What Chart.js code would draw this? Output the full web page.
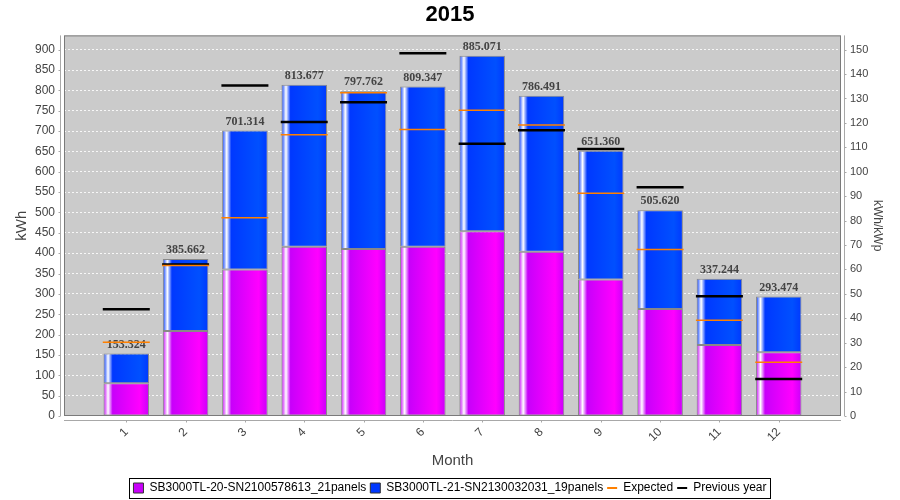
<!DOCTYPE html>
<html>
<head>
<meta charset="utf-8">
<title>2015</title>
<script src="https://cdn.jsdelivr.net/npm/chart.js@4.4.0/dist/chart.umd.min.js"></script>
<style>
html, body { margin: 0; padding: 0; background: #fff; }
#wrap { width: 900px; height: 500px; }
</style>
</head>
<body>
<div id="wrap"><canvas id="chart"></canvas></div>
<script>
// Data
const months = [1, 2, 3, 4, 5, 6, 7, 8, 9, 10, 11, 12];
const inverter20 = [80.3, 208.6, 360.0, 415.6, 410.0, 415.6, 454.0, 403.3, 335.5, 262.6, 174.3, 156.4];
const inverter21 = [73.0, 177.1, 341.3, 398.1, 387.8, 393.7, 431.1, 383.2, 315.9, 243.0, 162.9, 137.1];
const totals = [153.324, 385.662, 701.314, 813.677, 797.762, 809.347, 885.071, 786.491, 651.360, 505.620, 337.244, 293.474];
const expected = [181, 370, 487, 691, 794, 704, 751, 715, 547, 409, 235, 132];
const previousYear = [262, 372, 812, 722, 771, 891, 669, 702, 656, 562, 294, 91];
const seriesNames = ['SB3000TL-20-SN2100578613_21panels', 'SB3000TL-21-SN2130032031_19panels', 'Expected', 'Previous year'];

Chart.defaults.font.family = "'Liberation Sans', Arial, sans-serif";
Chart.defaults.font.size = 12;
Chart.defaults.color = '#444';

const BAR_PCT = 0.768;
const MAGENTA = '#c800fa', MAGENTA_HI = '#ff00ff';
const BLUE = '#0038ff', BLUE_HI = '#0050ff';
const ORANGE = '#ff8000';

// jfreechart style gradient: base -> white -> base -> bright -> base
function barGradient(c, c0, c1) {
    const chart = c.chart;
    const x = chart.scales.x;
    if (!chart.chartArea || c.dataIndex === undefined || !x) return c0;
    const w = (x.getPixelForValue(2) - x.getPixelForValue(1)) * BAR_PCT;
    const left = x.getPixelForValue(months[c.dataIndex]) - w / 2;
    const g = chart.ctx.createLinearGradient(left, 0, left + w, 0);
    g.addColorStop(0, c0);
    g.addColorStop(0.1, '#ffffff');
    g.addColorStop(0.2, c0);
    g.addColorStop(0.8, c1);
    g.addColorStop(1, c0);
    return g;
}

const pts = arr => arr.map((v, i) => ({ x: months[i], y: v }));

// gray plot background, frame and offset axis lines
const plotFrame = {
    id: 'plotFrame',
    beforeDraw(chart) {
        const { ctx, chartArea: a } = chart;
        ctx.save();
        ctx.fillStyle = '#cbcbcb';
        ctx.fillRect(a.left, a.top, a.width, a.height);
        ctx.restore();
    },
    afterDatasetsDraw(chart) {
        const { ctx, chartArea: a, scales } = chart;
        ctx.save();
        ctx.lineWidth = 1;
        ctx.strokeStyle = '#7a7a7a';
        ctx.strokeRect(a.left + 0.5, a.top + 0.5, a.width - 1, a.height - 1);
        ctx.strokeStyle = '#a8a8a8';
        const lx = Math.round(a.left) - 3.5, rx = Math.round(a.right) + 3.5, by = Math.round(a.bottom) + 4.5;
        ctx.beginPath();
        ctx.moveTo(lx, a.top); ctx.lineTo(lx, a.bottom);
        ctx.moveTo(rx, a.top); ctx.lineTo(rx, a.bottom);
        ctx.moveTo(a.left, by); ctx.lineTo(a.right, by);
        scales.y.ticks.forEach(t => {
            const p = Math.round(scales.y.getPixelForValue(t.value)) + 0.5;
            ctx.moveTo(lx - 2, p); ctx.lineTo(lx, p);
        });
        scales.y2.ticks.forEach(t => {
            const p = Math.round(scales.y2.getPixelForValue(t.value)) + 0.5;
            ctx.moveTo(rx, p); ctx.lineTo(rx + 2, p);
        });
        scales.x.ticks.forEach(t => {
            const p = Math.round(scales.x.getPixelForValue(t.value)) + 0.5;
            ctx.moveTo(p, by); ctx.lineTo(p, by + 2);
        });
        ctx.stroke();
        ctx.restore();
    },
    afterDraw(chart) {
        // box round the legend
        const boxes = chart.legend && chart.legend.legendHitBoxes;
        if (!boxes || !boxes.length) return;
        const l = Math.min(...boxes.map(b => b.left)) - 4;
        const r = Math.max(...boxes.map(b => b.left + b.width)) + 4;
        const t = Math.min(...boxes.map(b => b.top)) - 4;
        const btm = Math.max(...boxes.map(b => b.top + b.height)) + 4;
        const ctx = chart.ctx;
        ctx.save();
        ctx.strokeStyle = '#000';
        ctx.lineWidth = 1;
        ctx.strokeRect(Math.round(l) + 0.5, Math.round(t) + 0.5, Math.round(r - l), Math.round(btm - t));
        ctx.restore();
    }
};

// totals above each stack, drawn before the marker lines
const totalLabels = {
    id: 'totalLabels',
    afterDatasetDraw(chart, args) {
        if (args.index !== 0) return;
        const ctx = chart.ctx;
        const tops = chart.getDatasetMeta(1).data;
        ctx.save();
        ctx.font = "bold 12px 'Liberation Serif', 'Times New Roman', serif";
        ctx.fillStyle = '#444';
        ctx.textAlign = 'center';
        ctx.textBaseline = 'middle';
        tops.forEach((el, i) => ctx.fillText(totals[i].toFixed(3), el.x, el.y - 9));
        ctx.restore();
    }
};

const legendColors = [MAGENTA, BLUE, ORANGE, '#000'];

const ctx = document.getElementById('chart').getContext('2d');
new Chart(ctx, {
    data: {
        datasets: [
            {
                type: 'bar',
                label: seriesNames[0],
                data: pts(inverter20),
                stack: 'inv',
                order: 2,
                backgroundColor: c => barGradient(c, MAGENTA, MAGENTA_HI),
                borderColor: '#888',
                borderWidth: 1,
                borderSkipped: false,
                categoryPercentage: 1,
                barPercentage: BAR_PCT
            },
            {
                type: 'bar',
                label: seriesNames[1],
                data: pts(inverter21),
                stack: 'inv',
                order: 2,
                backgroundColor: c => barGradient(c, BLUE, BLUE_HI),
                borderColor: '#888',
                borderWidth: 1,
                borderSkipped: false,
                categoryPercentage: 1,
                barPercentage: BAR_PCT
            },
            {
                type: 'line',
                label: seriesNames[2],
                data: pts(expected),
                order: 1,
                showLine: false,
                pointStyle: 'line',
                pointRadius: 23.5,
                pointHoverRadius: 23.5,
                pointBorderColor: ORANGE,
                pointBorderWidth: 1.5,
                pointHoverBorderWidth: 1.5
            },
            {
                type: 'line',
                label: seriesNames[3],
                data: pts(previousYear),
                order: 1,
                showLine: false,
                pointStyle: 'line',
                pointRadius: 23.5,
                pointHoverRadius: 23.5,
                pointBorderColor: '#000',
                pointBorderWidth: 2.5,
                pointHoverBorderWidth: 2.5
            }
        ]
    },
    options: {
        responsive: true,
        maintainAspectRatio: false,
        animation: false,
        events: [],
        layout: { padding: { top: 0, bottom: -4, left: 0, right: 0 } },
        plugins: {
            title: {
                display: true,
                text: '2015',
                color: '#000',
                font: { size: 22, weight: 'bold' },
                padding: { top: 2, bottom: 7 }
            },
            legend: {
                position: 'bottom',
                labels: {
                    color: '#000',
                    usePointStyle: true,
                    pointStyleWidth: 10,
                    boxHeight: 10,
                    padding: 4,
                    font: { size: 12 },
                    sort: (a, b) => a.datasetIndex - b.datasetIndex,
                    generateLabels: chart => chart.data.datasets.map((ds, i) => ({
                        text: ds.label,
                        fillStyle: legendColors[i],
                        strokeStyle: i < 2 ? '#333' : legendColors[i],
                        lineWidth: i < 2 ? 1 : 2,
                        pointStyle: i < 2 ? 'rect' : 'line',
                        fontColor: '#000',
                        hidden: false,
                        datasetIndex: i
                    }))
                }
            },
            tooltip: { enabled: false }
        },
        scales: {
            x: {
                type: 'linear',
                position: 'bottom',
                min: -0.05,
                max: 13.05,
                offset: false,
                grid: { display: false, drawTicks: false, offset: false },
                border: { display: false },
                afterBuildTicks: s => { s.ticks = months.map(m => ({ value: m })); },
                afterFit: s => { s.height = 62; },
                ticks: {
                    minRotation: 45,
                    maxRotation: 45,
                    padding: 9,
                    color: '#444',
                    font: { size: 12 },
                    callback: v => String(v)
                },
                title: {
                    display: true,
                    text: 'Month',
                    color: '#444',
                    font: { size: 15 },
                    padding: { top: 0, bottom: 8 }
                }
            },
            y: {
                position: 'left',
                min: 0,
                max: 935,
                afterFit: s => { s.width = 64; },
                grid: { color: 'rgba(255,255,255,0.85)', lineWidth: 1, drawTicks: false },
                border: { display: false, dash: [2, 2] },
                ticks: { stepSize: 50, includeBounds: false, padding: 9, color: '#444', font: { size: 12 } },
                title: {
                    display: true,
                    text: 'kWh',
                    color: '#444',
                    font: { size: 15 },
                    padding: { top: 13, bottom: 0 }
                }
            },
            y2: {
                position: 'right',
                min: 0,
                max: 155.83,
                afterFit: s => { s.width = 59; },
                grid: { display: false, drawTicks: false },
                border: { display: false },
                ticks: { stepSize: 10, includeBounds: false, padding: 9, color: '#444', font: { size: 11 } },
                title: {
                    display: true,
                    text: 'kWh/kWp',
                    color: '#444',
                    font: { size: 12 },
                    padding: { top: 15, bottom: 0 }
                }
            }
        }
    },
    plugins: [plotFrame, totalLabels]
});
</script>
</body>
</html>
